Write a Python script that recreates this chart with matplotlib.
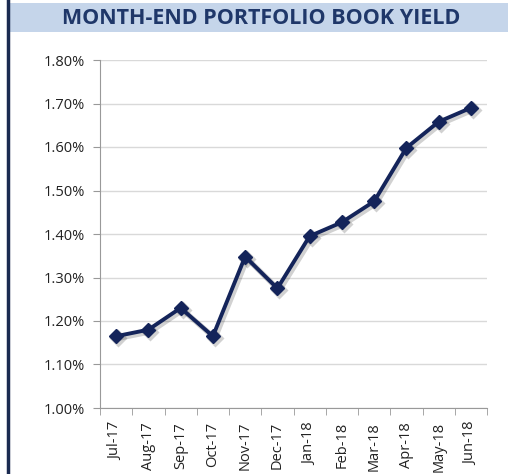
import numpy as np
import matplotlib
matplotlib.use('Agg')
import matplotlib.pyplot as plt
import matplotlib.transforms as mtransforms
from matplotlib.patches import Rectangle
from matplotlib.ticker import FixedLocator

months = ['Jul-17', 'Aug-17', 'Sep-17', 'Oct-17', 'Nov-17', 'Dec-17',
          'Jan-18', 'Feb-18', 'Mar-18', 'Apr-18', 'May-18', 'Jun-18']
book_yield = [1.165, 1.18, 1.23, 1.165, 1.348, 1.275,
              1.395, 1.427, 1.475, 1.598, 1.658, 1.69]
yticks = [1.0, 1.1, 1.2, 1.3, 1.4, 1.5, 1.6, 1.7, 1.8]

navy = '#14245a'
plt.rcParams['font.family'] = ['Open Sans', 'DejaVu Sans']

fig = plt.figure(figsize=(5.08, 4.74), dpi=100)

# title band
fig.patches.append(Rectangle((0.016, 0.932), 0.984, 0.062, transform=fig.transFigure,
                             facecolor='#c5d5ea', edgecolor='none', zorder=0))
fig.lines.append(plt.Line2D([0.016, 0.016], [0.0, 1.0], transform=fig.transFigure,
                            color='#1a2a50', lw=2.5))
fig.text(0.515, 0.962, 'MONTH-END PORTFOLIO BOOK YIELD', ha='center', va='center',
         fontsize=15.5, fontweight='bold', color='#1f3769')

ax = fig.add_axes([100 / 508, 1 - 408 / 474, 387 / 508, 348 / 474])
x = np.arange(len(months))

# soft drop shadow under the series
shadow = ax.transData + mtransforms.ScaledTranslation(2 / 100, -2 / 100, fig.dpi_scale_trans)
ax.plot(x, book_yield, color='#000000', alpha=0.18, lw=4, marker='D', ms=9,
        mec='none', transform=shadow, zorder=2)
ax.plot(x, book_yield, color=navy, lw=2.8, marker='D', ms=7.5, mec=navy, mfc=navy, zorder=3)

ax.set_xlim(-0.5, len(months) - 0.5)
ax.set_ylim(1.0, 1.8)
ax.set_yticks(yticks)
ax.set_yticklabels([f'{v:.2f}%' for v in yticks])
ax.set_xticks(x)
ax.set_xticklabels(months, rotation=90)
ax.xaxis.set_minor_locator(FixedLocator(np.arange(-0.5, len(months), 1.0)))
ax.tick_params(axis='x', which='major', length=0, pad=10, labelsize=10.5, labelcolor='#222222')
ax.tick_params(axis='x', which='minor', length=5, color='#999999')
ax.tick_params(axis='y', length=5, color='#999999', labelsize=10.5, labelcolor='#222222', pad=6)

ax.grid(axis='y', color='#d9d9d9', lw=1)
ax.set_axisbelow(True)
for s in ['top', 'right']:
    ax.spines[s].set_visible(False)
for s in ['left', 'bottom']:
    ax.spines[s].set_color('#999999')

fig.savefig('out.png', dpi=100)
